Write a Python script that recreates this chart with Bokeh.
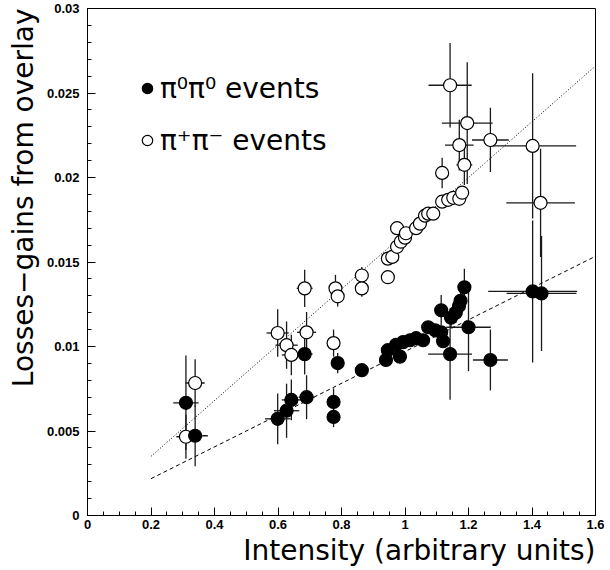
import numpy as np
from bokeh.plotting import figure
from bokeh.models import ColumnDataSource, FixedTicker, Title, Legend, LegendItem, Range1d
from bokeh.embed import file_html
from bokeh.resources import INLINE

# ---- pi0 pi0 events (filled circles) ----
n_x = [0.310, 0.339, 0.599, 0.627, 0.642, 0.690, 0.684, 0.788, 0.775, 0.775,
       0.864, 0.940, 0.946, 0.984, 0.972, 0.994, 1.016, 1.035, 1.057, 1.073,
       1.095, 1.114, 1.120, 1.114, 1.142, 1.145, 1.160, 1.170, 1.175, 1.187,
       1.200, 1.269, 1.402, 1.430]
n_y = [0.00667, 0.00472, 0.00572, 0.00620, 0.00684, 0.00700, 0.00955, 0.00902, 0.00672, 0.00583,
       0.00860, 0.00920, 0.00978, 0.00940, 0.01010, 0.01026, 0.01037, 0.01049, 0.01037, 0.01114,
       0.01096, 0.01084, 0.01031, 0.01214, 0.00955, 0.01170, 0.01200, 0.01240, 0.01270, 0.01350,
       0.01114, 0.00920, 0.01326, 0.01314]
n_ex = [0.040, 0.040, 0.040, 0.040, 0.030, 0.025, 0.025, 0.020, 0.020, 0.020,
        0.020, 0.0, 0.0, 0.0, 0.0, 0.0, 0.0, 0.0, 0.0, 0.0,
        0.0, 0.0, 0.0, 0.020, 0.069, 0.010, 0.010, 0.010, 0.010, 0.020,
        0.070, 0.055, 0.140, 0.110]
n_ey = [0.0028, 0.0018, 0.0015, 0.0016, 0.0012, 0.0013, 0.0012, 0.0006, 0.0008, 0.0006,
        0.0004, 0.0, 0.0, 0.0, 0.0, 0.0, 0.0, 0.0, 0.0, 0.0,
        0.0, 0.0, 0.0, 0.0009, 0.0027, 0.0006, 0.0006, 0.0007, 0.0008, 0.0011,
        0.0026, 0.0018, 0.0042, 0.0034]

# ---- pi+ pi- events (open circles) ----
c_x = [0.310, 0.339, 0.599, 0.627, 0.642, 0.690, 0.684, 0.781, 0.788, 0.775,
       0.864, 0.864, 0.946, 0.946, 0.960, 0.975, 0.975, 0.987, 1.000, 1.003,
       1.035, 1.047, 1.063, 1.073, 1.089, 1.117, 1.136, 1.152, 1.171, 1.180,
       1.117, 1.187, 1.142, 1.196, 1.171, 1.269, 1.402, 1.427]
c_y = [0.00466, 0.00784, 0.01080, 0.01008, 0.00950, 0.01084, 0.01344, 0.01344, 0.01297, 0.01020,
       0.01420, 0.01344, 0.01410, 0.01520, 0.01530, 0.01590, 0.01700, 0.01620, 0.01644, 0.01670,
       0.01700, 0.01727, 0.01774, 0.01786, 0.01786, 0.01857, 0.01868, 0.01880, 0.01874, 0.01910,
       0.02027, 0.02075, 0.02546, 0.02322, 0.02192, 0.02222, 0.02187, 0.01850]
c_ex = [0.030, 0.030, 0.035, 0.035, 0.030, 0.030, 0.025, 0.020, 0.020, 0.020,
        0.015, 0.015, 0.0, 0.0, 0.0, 0.0, 0.0, 0.0, 0.0, 0.0,
        0.0, 0.0, 0.0, 0.0, 0.0, 0.0, 0.0, 0.0, 0.0, 0.0,
        0.020, 0.025, 0.068, 0.080, 0.045, 0.058, 0.137, 0.108]
c_ey = [0.0013, 0.0014, 0.0014, 0.0014, 0.0012, 0.0012, 0.0011, 0.0008, 0.0006, 0.0008,
        0.0005, 0.0005, 0.0, 0.0, 0.0, 0.0, 0.0, 0.0, 0.0, 0.0,
        0.0, 0.0, 0.0, 0.0, 0.0, 0.0, 0.0, 0.0, 0.0, 0.0,
        0.0009, 0.0012, 0.0025, 0.0036, 0.0015, 0.0019, 0.0043, 0.0032]

# ---- straight-line fits (intercept, slope) drawn over x range ----
fit_x = [0.2, 1.6]
fit_charged = (0.0002, 0.0165)   # dotted
fit_neutral = (0.0003, 0.0094)   # dashed

labels = ["π⁰π⁰ events", "π⁺π⁻ events"]

x_ticks = [0, 0.2, 0.4, 0.6, 0.8, 1, 1.2, 1.4, 1.6]
x_tick_labels = ["0", "0.2", "0.4", "0.6", "0.8", "1", "1.2", "1.4", "1.6"]
y_ticks = [0, 0.005, 0.01, 0.015, 0.02, 0.025, 0.03]
y_tick_labels = ["0", "0.005", "0.01", "0.015", "0.02", "0.025", "0.03"]


def err_source(x, y, ex, ey):
    x = np.array(x); y = np.array(y); ex = np.array(ex); ey = np.array(ey)
    return ColumnDataSource(dict(x=x, y=y, xl=x - ex, xh=x + ex, yl=y - ey, yh=y + ey))


p = figure(width=604, height=566, output_backend="svg", toolbar_location=None,
           title=None, x_range=Range1d(0, 1.6), y_range=Range1d(0, 0.03),
           min_border_left=86, min_border_right=9, min_border_top=8, min_border_bottom=50)
p.background_fill_color = "white"
p.border_fill_color = "white"
p.outline_line_color = "black"
p.outline_line_width = 1
p.xgrid.visible = False
p.ygrid.visible = False

src_n = err_source(n_x, n_y, n_ex, n_ey)
src_c = err_source(c_x, c_y, c_ex, c_ey)

for s in (src_c, src_n):
    p.segment(x0="xl", y0="y", x1="xh", y1="y", source=s, line_color="#1a1a1a", line_width=1.3)
    p.segment(x0="x", y0="yl", x1="x", y1="yh", source=s, line_color="#1a1a1a", line_width=1.3)

# fits
fx = np.array(fit_x)
p.line(fx, fit_charged[0] + fit_charged[1] * fx, line_color="black", line_width=1, line_dash="1 2")
p.line(fx, fit_neutral[0] + fit_neutral[1] * fx, line_color="black", line_width=1, line_dash="4 3")

r_c = p.scatter("x", "y", source=src_c, marker="circle", size=13,
                fill_color="white", line_color="black", line_width=1.2)
r_n = p.scatter("x", "y", source=src_n, marker="circle", size=13,
                fill_color="black", line_color="black", line_width=1.2)

legend = Legend(items=[LegendItem(label=labels[0], renderers=[r_n]),
                       LegendItem(label=labels[1], renderers=[r_c])],
                location=(47, 358), orientation="vertical")
legend.label_text_font = "DejaVu Sans"
legend.label_text_font_size = "28px"
legend.label_text_color = "black"
legend.label_height = 34
legend.glyph_height = 34
legend.glyph_width = 26
legend.label_standoff = 0
legend.spacing = 18
legend.padding = 0
legend.margin = 0
legend.border_line_alpha = 0
legend.background_fill_alpha = 0
p.add_layout(legend)

# axes styling
for ax in (p.xaxis[0], p.yaxis[0]):
    ax.major_tick_in = 8
    ax.major_tick_out = 0
    ax.minor_tick_in = 4
    ax.minor_tick_out = 0
    ax.axis_line_color = "black"
    ax.major_tick_line_color = "black"
    ax.minor_tick_line_color = "black"
    ax.major_label_text_font = "Liberation Sans"
    ax.major_label_text_font_style = "bold"
    ax.major_label_text_font_size = "13px"
    ax.major_label_text_color = "black"

p.xaxis[0].ticker = FixedTicker(ticks=x_ticks, minor_ticks=list(np.round(np.arange(0, 1.6001, 0.05), 3)))
p.yaxis[0].ticker = FixedTicker(ticks=y_ticks, minor_ticks=list(np.round(np.arange(0, 0.03001, 0.001), 4)))
p.xaxis[0].major_label_overrides = dict(zip(x_ticks, x_tick_labels))
p.yaxis[0].major_label_overrides = dict(zip(y_ticks, y_tick_labels))
p.xaxis[0].major_label_standoff = 4
p.yaxis[0].major_label_standoff = 8

xt = Title(text="Intensity (arbitrary units)", align="right", text_font="DejaVu Sans",
           text_font_size="28px", text_font_style="normal", text_color="black", standoff=0)
p.add_layout(xt, "below")
yt = Title(text="Losses−gains from overlay", align="right", text_font="DejaVu Sans",
           text_font_size="28px", text_font_style="normal", text_color="black", standoff=8)
p.add_layout(yt, "left")

open("out.html", "w").write(file_html(p, INLINE))
